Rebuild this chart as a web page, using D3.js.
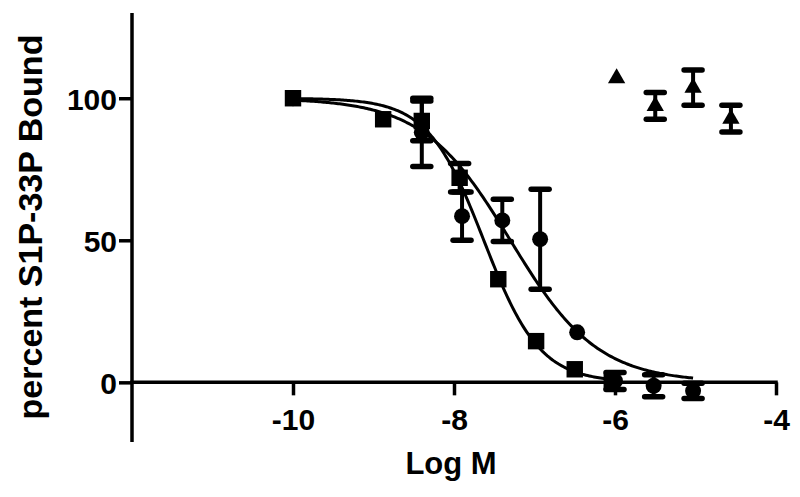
<!DOCTYPE html>
<meta charset="utf-8">

<style>

body {
  margin: 0;
  background: #fff;
}

.axis-line {
  fill: none;
  stroke: #000;
  stroke-width: 3.5px;
}

.fit {
  fill: none;
  stroke: #000;
  stroke-width: 3px;
}

.err {
  stroke: #000;
  stroke-width: 4px;
}

.cap {
  stroke: #000;
  stroke-width: 5.5px;
  stroke-linecap: round;
}

text {
  font-family: "Liberation Sans", Arial, sans-serif;
  font-weight: bold;
  fill: #000;
}

</style>

<body>

<svg id="chart" width="800" height="497"></svg>

<script src="https://d3js.org/d3.v7.min.js"></script>
<script>

// squares
const sqX = [-10, -8.88, -8.4, -7.93, -7.45, -6.98, -6.5, -6.04]
const sqY = [100, 92.6, 92, 72, 36.3, 14.5, 4.6, 0.3]
const sqErr = [0, 0, 7, 5, 0, 0, 0, 0]

// circles
const ciX = [-10, -8.4, -7.9, -7.4, -6.93, -6.47, -6.0, -5.52, -5.03]
const ciY = [100, 88, 58.5, 57, 50.4, 17.6, 0.5, -1.2, -3]
const ciErr = [0, 12, 8.5, 7.4, 17.6, 0, 3, 3.9, 2.7]

// triangles
const trX = [-5.98, -5.5, -5.03, -4.56]
const trY = [107, 97.3, 103.7, 92.8]
const trErr = [0, 4.7, 6.2, 4.7]

// one-site competition fits (top, bottom, logIC50, hill, x range)
const sqFit = [100, 0, -7.63, 1.25, -10, -6.04]
const ciFit = [100, 0, -7.3, 0.8, -10, -5.03]

const xTicks = [-10, -8, -6, -4]
const yTicks = [0, 50, 100]

const svg = d3.select("#chart")

const x = d3.scaleLinear().domain([-12, -4]).range([132, 776])
const y = d3.scaleLinear().domain([-21, 130]).range([442, 13])

// plain hyphen minus like the original
const fmt = d => String(d)

const xAxis = d3.axisBottom(x).tickValues(xTicks).tickSize(13).tickSizeOuter(0).tickFormat(fmt)
const yAxis = d3.axisLeft(y).tickValues(yTicks).tickSize(13).tickSizeOuter(0).tickFormat(fmt)

const gx = svg.append("g").attr("transform", `translate(0,${y(0)})`).call(xAxis)
const gy = svg.append("g").attr("transform", `translate(${x(-12)},0)`).call(yAxis)

gx.select(".domain").remove()
gy.select(".domain").remove()

svg.append("line").attr("class", "axis-line")
  .attr("x1", x(-12) - 1.75).attr("x2", x(-4) + 1.75)
  .attr("y1", y(0)).attr("y2", y(0))
svg.append("line").attr("class", "axis-line")
  .attr("x1", x(-12)).attr("x2", x(-12))
  .attr("y1", y(130)).attr("y2", y(-21))

for (const g of [gx, gy]) {
  g.selectAll(".tick line").attr("stroke", "#000").attr("stroke-width", 3.5)
  g.selectAll(".tick text")
    .style("font-family", "'Liberation Sans', Arial, sans-serif")
    .style("font-weight", "bold")
    .style("font-size", "30px")
    .attr("fill", "#000")
}
gx.selectAll(".tick text").attr("dy", "1.05em")
gy.selectAll(".tick text").attr("x", -15).attr("dy", "0.36em")

svg.append("text")
  .attr("x", 451).attr("y", 474)
  .attr("text-anchor", "middle")
  .style("font-size", "31px")
  .text("Log M")

svg.append("text")
  .attr("transform", "translate(42,227) rotate(-90)")
  .attr("text-anchor", "middle")
  .style("font-size", "34px")
  .text("percent S1P-33P Bound")

// fitted curves
function curve(p) {
  const [top, bottom, c, h, from, to] = p
  const xs = d3.range(from, to, 0.02).concat([to])
  return xs.map(v => [v, bottom + (top - bottom) / (1 + Math.pow(10, (v - c) * h))])
}

const line = d3.line().x(d => x(d[0])).y(d => y(d[1]))

svg.append("path").attr("class", "fit").attr("d", line(curve(sqFit)))
svg.append("path").attr("class", "fit").attr("d", line(curve(ciFit)))

// error bars
function errorBars(xs, ys, es) {
  const g = svg.append("g")
  xs.forEach((v, i) => {
    const e = es[i]
    if (!e) return
    const cx = x(v), y1 = y(ys[i] + e), y2 = y(ys[i] - e)
    g.append("line").attr("class", "err").attr("x1", cx).attr("x2", cx).attr("y1", y1).attr("y2", y2)
    g.append("line").attr("class", "cap").attr("x1", cx - 9).attr("x2", cx + 9).attr("y1", y1).attr("y2", y1)
    g.append("line").attr("class", "cap").attr("x1", cx - 9).attr("x2", cx + 9).attr("y1", y2).attr("y2", y2)
  })
}

errorBars(sqX, sqY, sqErr)
errorBars(ciX, ciY, ciErr)
errorBars(trX, trY, trErr)

// markers
function markers(xs, ys, type, size) {
  const sym = d3.symbol().type(type).size(size)
  svg.append("g").selectAll("path")
    .data(xs.map((v, i) => [v, ys[i]]))
    .join("path")
      .attr("transform", d => `translate(${x(d[0])},${y(d[1])})`)
      .attr("d", sym)
      .attr("fill", "#000")
}

markers(ciX, ciY, d3.symbolCircle, 200)
markers(sqX, sqY, d3.symbolSquare, 270)
markers(trX, trY, d3.symbolTriangle, 130)

</script>
